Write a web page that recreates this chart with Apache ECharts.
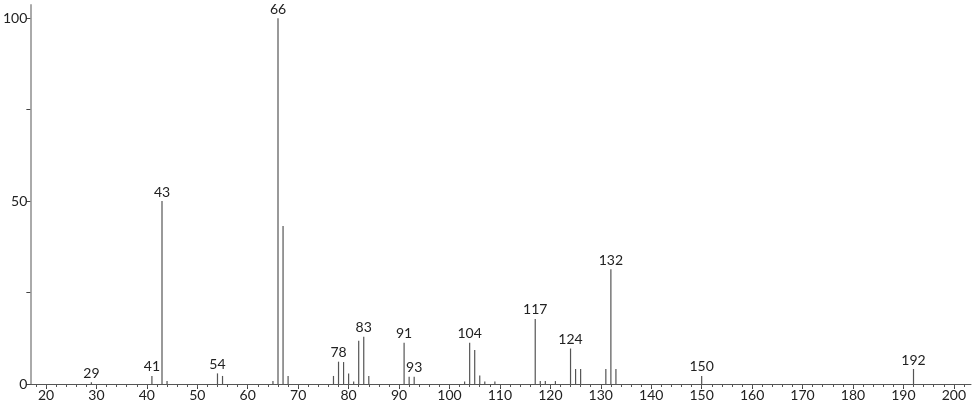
<!DOCTYPE html>
<html>
<head>
<meta charset="utf-8">
<script src="https://cdn.jsdelivr.net/npm/echarts@6/dist/echarts.min.js"></script>
<style>html,body{margin:0;padding:0;background:#fff}#c{width:974px;height:406px}</style>
</head>
<body>
<div id="c"></div>
<script>
var mz =        [29, 41, 43, 44, 54, 55, 65, 66, 67, 68, 77, 78, 79, 80, 81, 82, 83, 84, 91, 92, 93, 103, 104, 105, 106, 107, 109, 117, 118, 119, 121, 124, 125, 126, 131, 132, 133, 150, 192];
var intensity = [0.5, 2.2, 50, 0.8, 2.9, 2.2, 0.8, 100, 43.2, 2.2, 2.2, 6.1, 6.0, 2.9, 0.7, 11.8, 12.9, 2.2, 11.3, 2.0, 2.0, 0.7, 11.3, 9.3, 2.3, 0.7, 0.7, 17.8, 0.8, 0.8, 0.8, 9.7, 4.1, 4.1, 4.1, 31.4, 4.1, 2.2, 4.1];
var labeledPeaks = [29, 41, 43, 54, 66, 78, 83, 91, 93, 104, 117, 124, 132, 150, 192];
var xLabelValues = [20, 30, 40, 50, 60, 70, 80, 90, 100, 110, 120, 130, 140, 150, 160, 170, 180, 190, 200];
var yLabelValues = [0, 50, 100];
var yTickValues = [0, 25, 50, 75, 100];

var minorTicks = [];
for (var v = 18; v <= 202; v += 2) minorTicks.push(v);

var data = mz.map(function (m, i) {
  var item = { value: [m, intensity[i]] };
  if (labeledPeaks.indexOf(m) >= 0) item.label = { show: true };
  return item;
});

var font = 'Lato';
var chart = echarts.init(document.getElementById('c'), null, { renderer: 'canvas' });
chart.setOption({
  animation: false,
  backgroundColor: '#fff',
  grid: { left: 29, right: 3, top: 5, bottom: 22, containLabel: false },
  xAxis: [{
    type: 'value', min: 16.9, max: 203.4,
    splitLine: { show: false },
    axisLine: { show: true, onZero: false, lineStyle: { color: '#555', width: 1 } },
    axisTick: { show: true, customValues: xLabelValues, length: 5, lineStyle: { color: '#444' } },
    axisLabel: { customValues: xLabelValues, color: '#222', fontFamily: font, fontSize: 14, margin: 4 }
  }, {
    type: 'value', min: 16.9, max: 203.4, position: 'bottom',
    splitLine: { show: false },
    axisLine: { show: false },
    axisTick: { show: true, customValues: minorTicks, length: 3, lineStyle: { color: '#555' } },
    axisLabel: { show: false }
  }],
  yAxis: {
    type: 'value', min: 0, max: 103.6,
    splitLine: { show: false },
    axisLine: { show: true, lineStyle: { color: '#aaa', width: 2 } },
    axisTick: { show: true, customValues: yTickValues, length: 4, lineStyle: { color: '#444' } },
    axisLabel: { customValues: yLabelValues, color: '#222', fontFamily: font, fontSize: 14, margin: 3 }
  },
  series: [{
    type: 'bar',
    xAxisIndex: 0,
    barWidth: 1.2,
    itemStyle: { color: '#555' },
    label: {
      show: false, position: 'top', distance: 2, color: '#222', fontFamily: font, fontSize: 14,
      formatter: function (p) { return String(p.value[0]); }
    },
    data: data
  }]
});
</script>
</body>
</html>
